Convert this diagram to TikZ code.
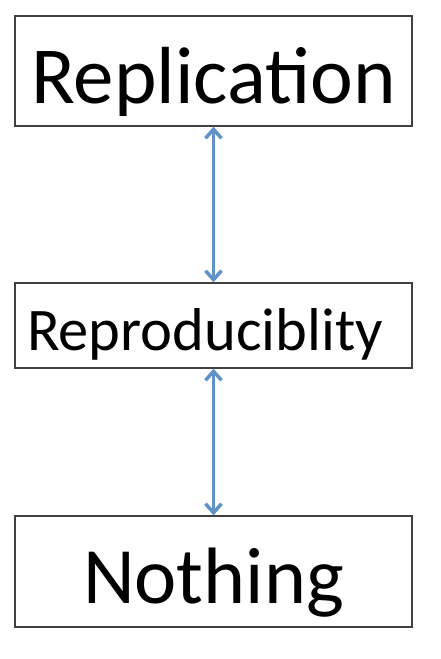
\documentclass[tikz,border=0pt]{standalone}
\usepackage{fontspec}
\setmainfont{Carlito}
\usetikzlibrary{arrows.meta}
\definecolor{linkblue}{RGB}{96,146,200}
\tikzset{
	level/.style={draw=black!75, line width=1.3pt, inner sep=0pt, minimum width=397pt, text depth=0pt},
	link/.style={linkblue, line width=3.5pt, {Straight Barb[length=9pt,width=16pt]}-{Straight Barb[length=9pt,width=16pt]}}
}

\begin{document}
\begin{tikzpicture}[x=1pt,y=-1pt]
\useasboundingbox (0,0) rectangle (441,659);

\node[level, minimum height=110pt, text height=64pt] (replication) at (213.5,71)
	{\fontsize{81}{90}\selectfont Replication};
\node[level, minimum height=85pt, text height=49pt] (reproducibility) at (213.5,325.5)
	{\fontsize{60.5}{70}\selectfont Reproduciblity\kern17pt};
\node[level, minimum height=111pt, text height=63pt] (nothing) at (213.5,571.5)
	{\fontsize{80}{90}\selectfont Nothing};

\draw[link] (replication) -- (reproducibility);
\draw[link] (reproducibility) -- (nothing);
\end{tikzpicture}
\end{document}
